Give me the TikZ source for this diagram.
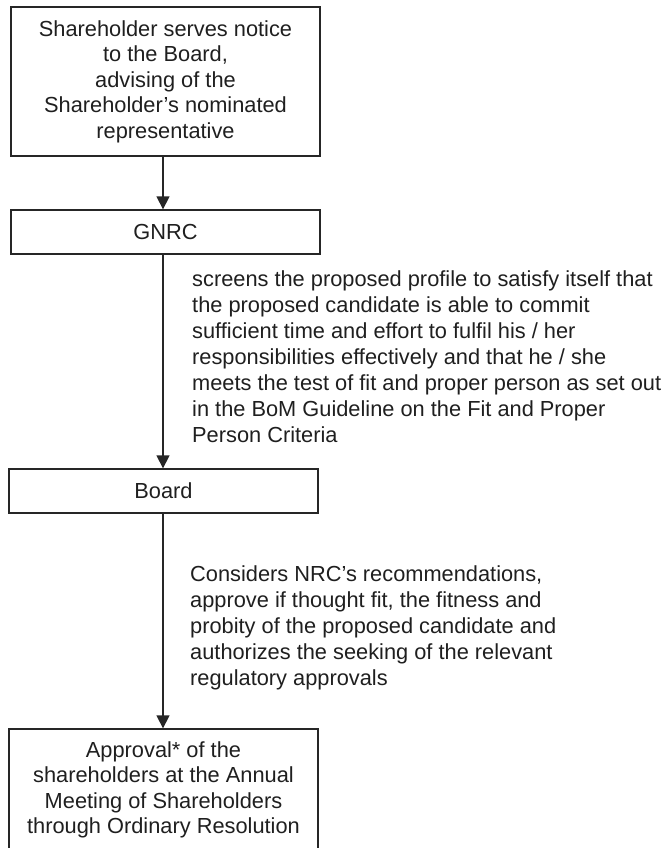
\documentclass[tikz,border=0pt]{standalone}
\usepackage{fontspec}
\setmainfont{Liberation Sans}
\usetikzlibrary{arrows.meta}
\begin{document}
\begin{tikzpicture}[x=1pt,y=-1pt,
  box/.style={draw=black!85, line width=1.3pt, minimum width=309pt, inner sep=0pt,
    align=center, font=\fontsize{21.8pt}{25.5pt}\selectfont, text=black!88},
  note/.style={inner sep=0pt, align=left, anchor=north west,
    font=\fontsize{21.8pt}{26pt}\selectfont, text=black!88},
  link/.style={draw=black!85, line width=1.3pt},
  arr/.style={link, -{Triangle[width=13pt,length=13pt]}}]
\useasboundingbox (0,0) rectangle (664,848);
\clip (0,0) rectangle (664,848);
\node[box, minimum height=149pt] (sh) at (165.5,81.5)
  {Shareholder serves notice\\to the Board,\\advising of the\\Shareholder’s nominated\\representative};
\node[box, minimum height=44pt] (gn) at (165.5,232) {GNRC};
\node[box, minimum height=44pt] (bd) at (163.5,491) {Board};
\node[box, minimum height=122pt] (ap) at (163.5,790)
  {Approval* of the\\shareholders at the Annual\\Meeting of Shareholders\\through Ordinary Resolution};
\coordinate (lx) at (163,0);
\node[note] (n1) at (192,270)
  {screens the proposed profile to satisfy itself that\\the proposed candidate is able to commit\\sufficient time and effort to fulfil his / her\\responsibilities effectively and that he / she\\meets the test of fit and proper person as set out\\in the BoM Guideline on the Fit and Proper\\Person Criteria};
\node[note] (n2) at (190,565)
  {Considers NRC’s recommendations,\\approve if thought fit, the fitness and\\probity of the proposed candidate and\\authorizes the seeking of the relevant\\regulatory approvals};
\draw[arr] (sh.south -| lx) -- (gn.north -| lx);
\draw[arr] (gn.south -| lx) -- (bd.north -| lx);
\draw[arr] (bd.south -| lx) -- (ap.north -| lx);
\end{tikzpicture}
\end{document}
